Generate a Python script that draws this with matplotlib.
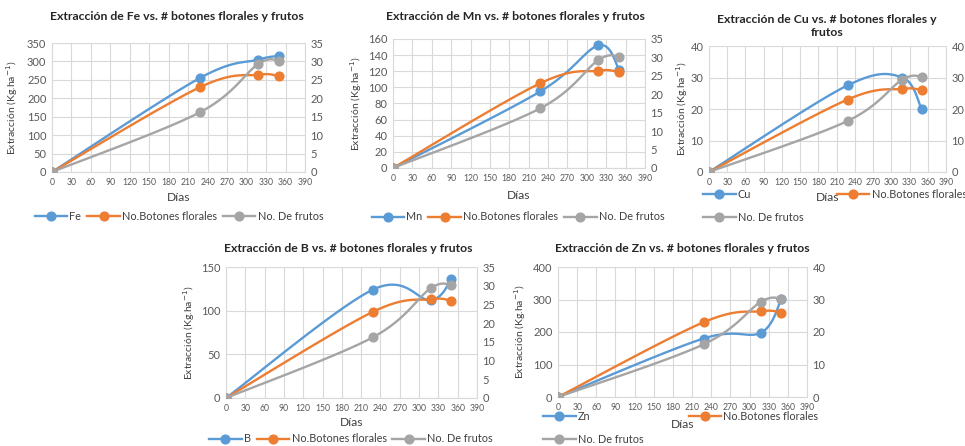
import matplotlib
matplotlib.use('Agg')
import matplotlib.pyplot as plt
import numpy as np

plt.rcParams['font.family'] = ['Lato', 'DejaVu Sans']

W, H = 965, 446

dias = [0, 228, 318, 350]
botones = [0, 23.0, 26.4, 26.0]
frutos = [0, 16.2, 29.3, 30.2]

fe = [0, 255, 305, 315]
mn = [0, 95, 152, 122]
cu = [0, 27.5, 30.0, 20.0]
b = [0, 124, 112, 136]
zn = [0, 180, 198, 302]

x_ticks = list(range(0, 391, 30))

BLUE = '#5B9BD5'
ORANGE = '#ED7D31'
GRAY = '#A5A5A5'
TXT = '#595959'
GRID = '#D9D9D9'

# panel layout in pixels: plot area box (x0, x1, ytop, ybottom)
# ylab = centre of the rotated y label
panels = [
    dict(name='Fe', y=fe, left=(350, 50), right=(35, 5), box=(52, 305, 43, 172),
         title='Extracción de Fe vs. # botones florales y frutos', tpos=(177, 17),
         xlab=197, ylab=15, leg=(179, 216), ncol=3, colsp=0.55),
    dict(name='Mn', y=mn, left=(160, 20), right=(35, 5), box=(393, 645, 39, 168),
         title='Extracción de Mn vs. # botones florales y frutos', tpos=(515, 17),
         xlab=195, ylab=359, leg=(518, 217), ncol=3, colsp=0.55),
    dict(name='Cu', y=cu, left=(40, 10), right=(40, 10), box=(709, 946, 46, 172),
         title='Extracción de Cu vs. # botones florales y\nfrutos', tpos=(827, 26),
         xlab=197, ylab=685, leg=(703, 206), ncol=2, colsp=3.1),
    dict(name='B', y=b, left=(150, 50), right=(35, 5), box=(226, 477, 267, 398),
         title='Extracción de B vs. # botones florales y frutos', tpos=(348, 248),
         xlab=422, ylab=192, leg=(351, 439), ncol=3, colsp=0.55),
    dict(name='Zn', y=zn, left=(400, 100), right=(40, 10), box=(558, 807, 267, 397),
         title='Extracción de Zn vs. # botones florales y frutos', tpos=(682, 248),
         xlab=425, ylab=523, leg=(543, 428), ncol=2, colsp=4.2),
]


def smooth(x, y, n=40):
    # Excel-like smoothed line: Catmull-Rom through the points as cubic Beziers
    p = np.column_stack([x, y]).astype(float)
    ext = np.vstack([p[0], p, p[-1]])
    out = []
    t = np.linspace(0, 1, n)[:, None]
    for i in range(1, len(ext) - 2):
        p0, p1, p2, p3 = ext[i - 1], ext[i], ext[i + 1], ext[i + 2]
        c1 = p1 + (p2 - p0) / 6
        c2 = p2 - (p3 - p1) / 6
        seg = ((1 - t) ** 3) * p1 + 3 * ((1 - t) ** 2) * t * c1 + 3 * (1 - t) * t ** 2 * c2 + t ** 3 * p2
        out.append(seg)
    s = np.vstack(out)
    return s[:, 0], s[:, 1]


def plot_series(ax, x, y, color, label):
    sx, sy = smooth(x, y)
    ax.plot(sx, sy, color=color, lw=1.7, zorder=3)
    ax.plot(x, y, 'o', color=color, ms=6.3, zorder=4)
    h, = ax.plot([], [], '-o', color=color, lw=1.7, ms=6.3, label=label)
    return h


fig = plt.figure(figsize=(W / 100, H / 100), dpi=100)

for p in panels:
    x0, x1, yt, yb = p['box']
    ax = fig.add_axes([x0 / W, 1 - yb / H, (x1 - x0) / W, (yb - yt) / H])
    ax2 = ax.twinx()

    ax.set_xlim(0, 390)
    ax.set_xticks(x_ticks)
    ax.set_ylim(0, p['left'][0])
    ax.set_yticks(np.arange(0, p['left'][0] + 1, p['left'][1]))
    ax2.set_ylim(0, p['right'][0])
    ax2.set_yticks(np.arange(0, p['right'][0] + 1, p['right'][1]))
    ax.grid(True, color=GRID, lw=0.8)
    ax.set_axisbelow(True)

    for a in (ax, ax2):
        for s in a.spines.values():
            s.set_visible(False)
        a.tick_params(length=0, colors=TXT)
    ax.spines['bottom'].set_visible(True)
    ax.spines['bottom'].set_color(GRID)
    ax.spines['left'].set_visible(True)
    ax.spines['left'].set_color(GRID)
    ax2.spines['right'].set_visible(True)
    ax2.spines['right'].set_color(GRID)
    ax.tick_params(axis='x', labelsize=6.2, pad=4)
    ax.tick_params(axis='y', labelsize=8, pad=4)
    ax2.tick_params(axis='y', labelsize=8, pad=4)

    h1 = plot_series(ax, dias, p['y'], BLUE, p['name'])
    h2 = plot_series(ax2, dias, botones, ORANGE, 'No.Botones florales')
    h3 = plot_series(ax2, dias, frutos, GRAY, 'No. De frutos')

    ax.set_ylabel('Extracción (Kg.ha$^{-1}$)', fontsize=7.5, color='#404040')
    # label is anchored at its right edge, about 5 px right of its centre
    ax.yaxis.set_label_coords((p['ylab'] + 5 - x0) / (x1 - x0), 0.5)
    fig.text((x0 + x1) / 2 / W, 1 - p['xlab'] / H, 'Días', ha='center', va='center',
             fontsize=8.7, color='#404040')
    fig.text(p['tpos'][0] / W, 1 - p['tpos'][1] / H, p['title'], ha='center', va='center',
             fontsize=8.8, fontweight='bold', color='#262626', linespacing=1.3)

    if p['ncol'] == 2:
        # row-wise order, anchored at the left edge of the first handle
        hs, loc, lsp = [h1, h3, h2], 'center left', 1.15
    else:
        hs, loc, lsp = [h1, h2, h3], 'center', 0.6
    fig.legend(handles=hs, loc=loc, ncol=p['ncol'],
               bbox_to_anchor=(p['leg'][0] / W, 1 - p['leg'][1] / H),
               frameon=False, fontsize=7.8, handlelength=3, handletextpad=0.2,
               columnspacing=p['colsp'], labelspacing=lsp, borderpad=0,
               borderaxespad=0, labelcolor='#404040')

fig.savefig('out.png', dpi=100)
